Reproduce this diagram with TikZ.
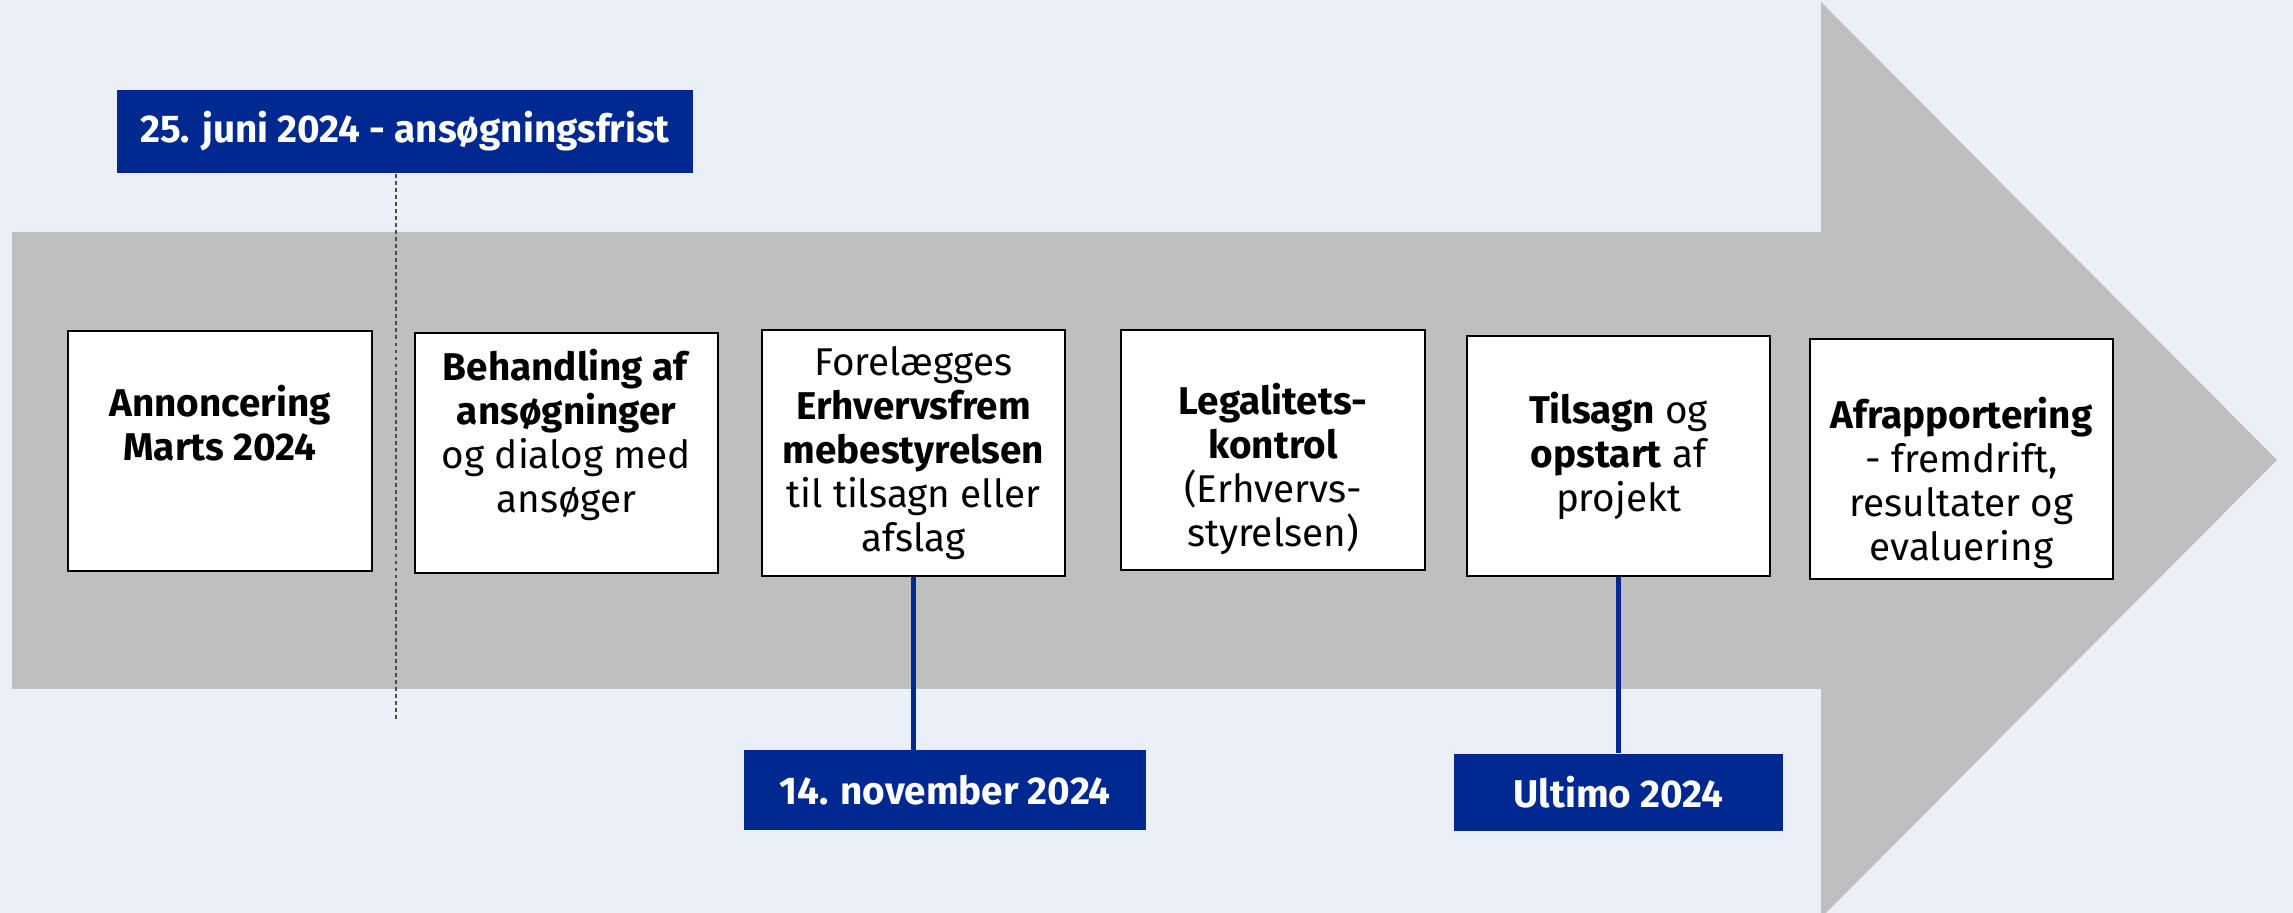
\documentclass[tikz,border=0pt]{standalone}
\usepackage{fontspec}
\setmainfont{Fira Sans}
\tikzset{>=stealth}
\usetikzlibrary{calc}
\definecolor{bgblue}{RGB}{235,240,248}
\definecolor{arrowgray}{RGB}{191,191,191}
\definecolor{darkblue}{RGB}{0,40,145}
\tikzset{
  stepbox/.style={draw=black, line width=0.6pt, fill=white, minimum width=3.03cm,
    minimum height=2.4cm, align=center, inner sep=0pt, font=\fontsize{11}{12.5}\selectfont},
  datebox/.style={fill=darkblue, text=white, inner sep=0pt,
    font=\fontsize{11}{12.5}\selectfont\bfseries},
  stem/.style={darkblue, line width=1.2pt},
  frist/.style={black!70, line width=0.6pt, dash pattern=on 1.1pt off 0.9pt},
}

\begin{document}
\begin{tikzpicture}[x=0.01cm, y=-0.01cm]
    \fill[bgblue] (0,0) rectangle (2293,913);
    \useasboundingbox (0,0) rectangle (2293,913);
    \clip (0,0) rectangle (2293,913);
    \fill[arrowgray] (12,232) -- (1821,232) -- (1821,2) -- (2277,460)
        -- (1821,918) -- (1821,689) -- (12,689) -- cycle;

    \node[datebox, minimum width=5.76cm, minimum height=0.83cm] (juni) at (405,131.5) {25. juni 2024 - ansøgningsfrist};
    \coordinate (juniend) at (396,720);
    \draw[frist] (juni.south -| juniend) -- (juniend);

    \node[stepbox] (annonce) at (220,451) {\textbf{Annoncering}\\\textbf{Marts 2024}\\[0.12cm]\mbox{}};
    \node[stepbox] (behandling) at (566.5,453) {\textbf{Behandling af}\\\textbf{ansøgninger}\\og dialog med\\ansøger\\\mbox{}};
    \node[stepbox, minimum height=2.46cm] (forelaeg) at (913.5,453) {Forelægges\\\textbf{Erhvervsfrem}\\\textbf{mebestyrelsen}\\til tilsagn eller\\afslag};
    \node[stepbox] (legal) at (1273,450) {\mbox{}\\[0.26cm]\textbf{Legalitets-}\\\textbf{kontrol}\\(Erhvervs-\\styrelsen)};
    \node[stepbox] (tilsagn) at (1618.5,456) {\textbf{Tilsagn} og\\\textbf{opstart} af\\projekt};
    \node[stepbox] (afrap) at (1961.5,459) {\mbox{}\\[0.35cm]\textbf{Afrapportering}\\- fremdrift,\\resultater og\\evaluering};

    \node[datebox, minimum width=4.02cm, minimum height=0.79cm] (november) at (945,790) {14. november 2024};
    \node[datebox, minimum width=3.29cm, minimum height=0.77cm] (ultimo) at (1618.5,792.5) {Ultimo 2024};

    \draw[stem] (forelaeg.south) -- (forelaeg.south |- november.north);
    \draw[stem] (tilsagn.south) -- (tilsagn.south |- ultimo.north);
\end{tikzpicture}
\end{document}
